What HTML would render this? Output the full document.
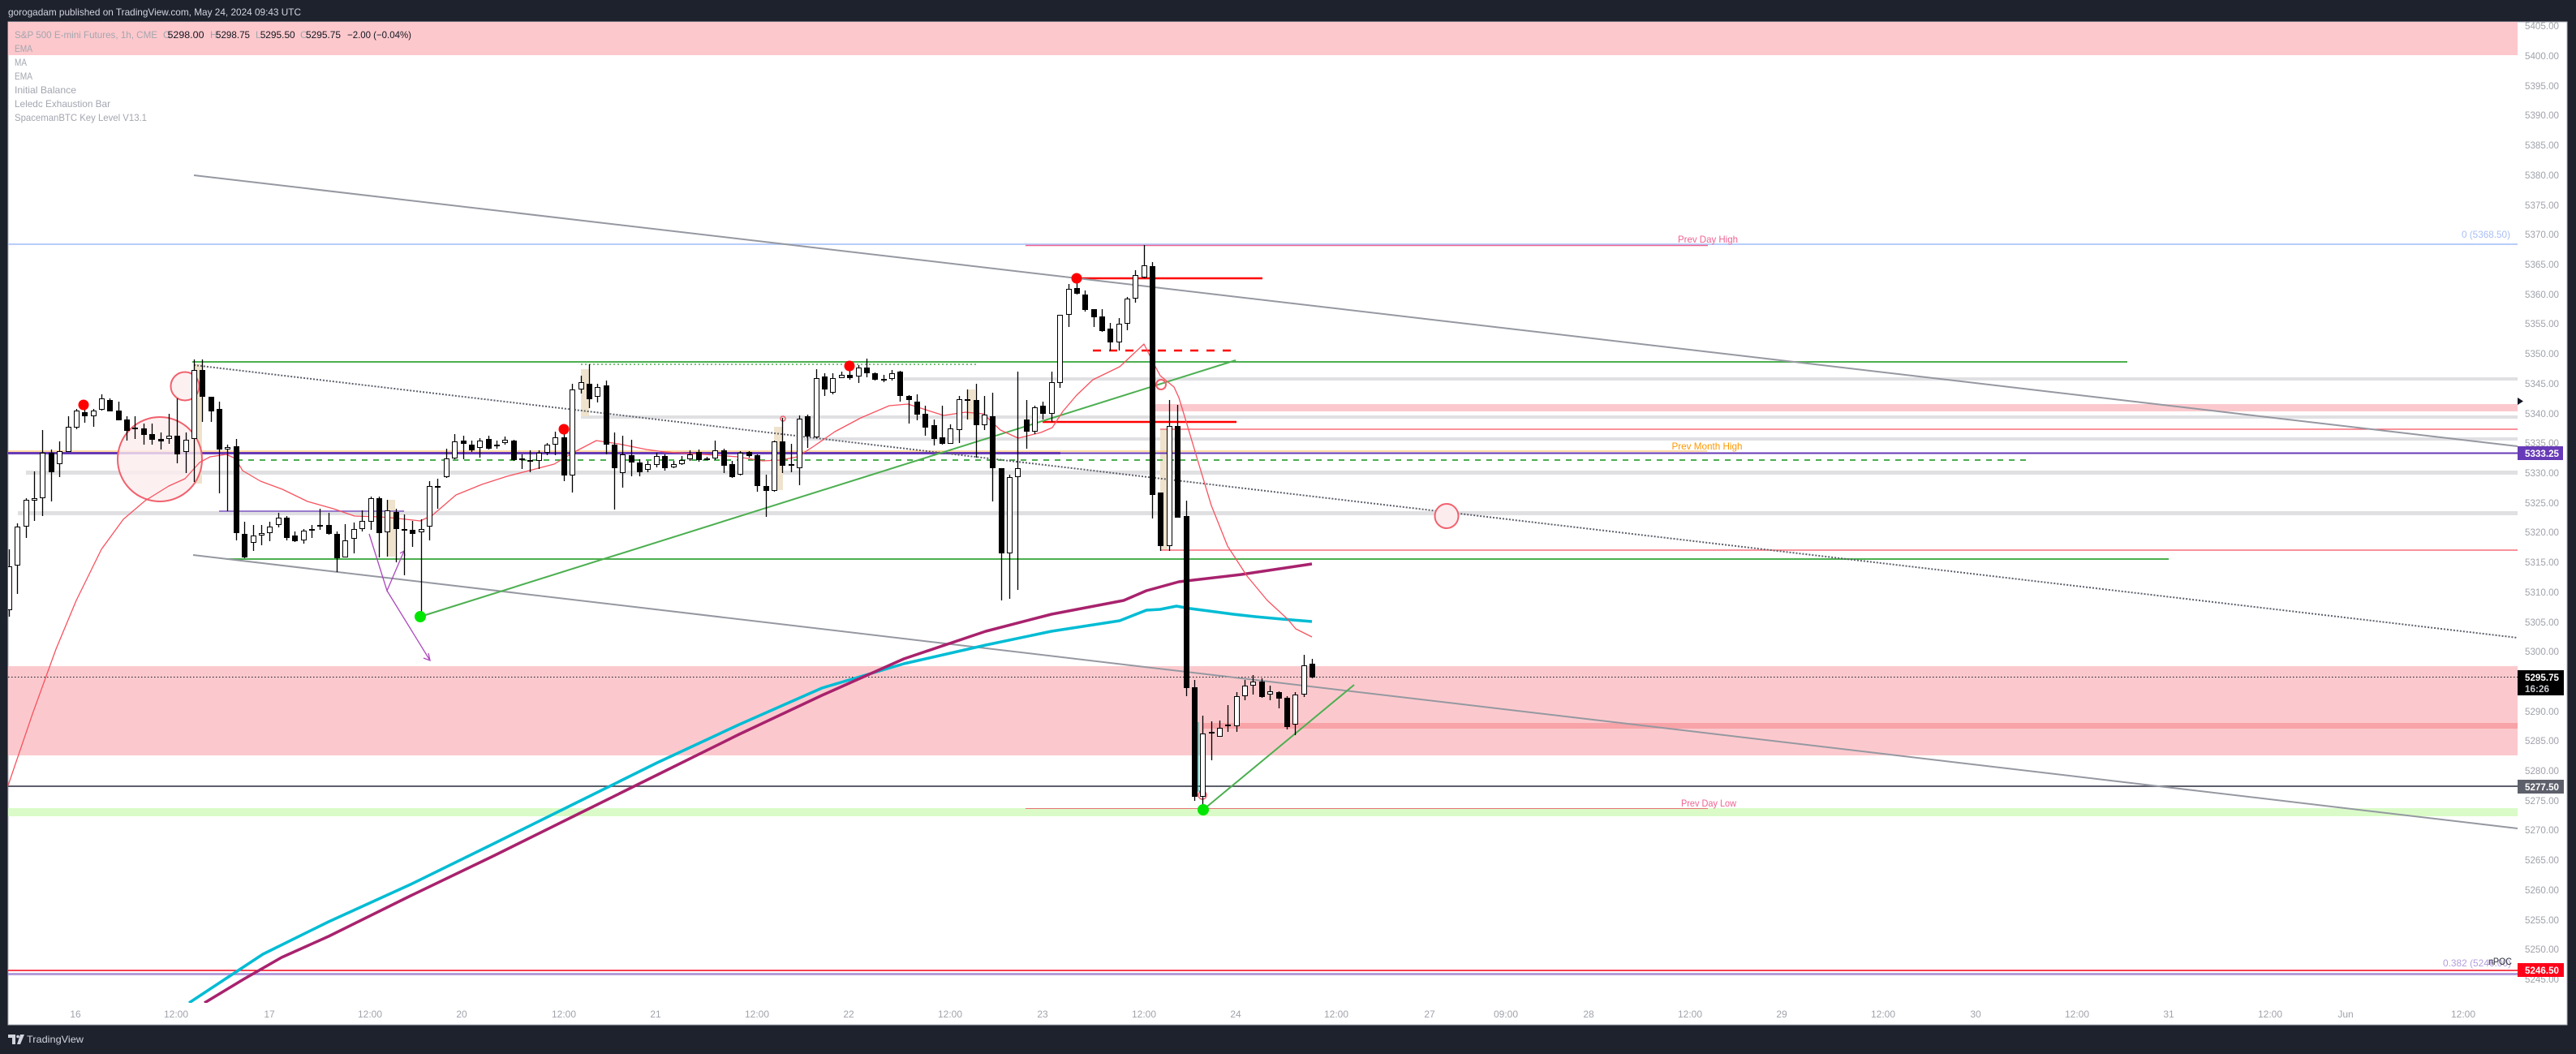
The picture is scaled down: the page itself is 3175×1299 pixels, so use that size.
<!DOCTYPE html>
<html><head><meta charset="utf-8"><style>html,body{margin:0;padding:0;background:#1e222d;overflow:hidden}svg{display:block}</style></head>
<body>
<svg width="3175" height="1299" viewBox="0 0 3175 1299" xmlns="http://www.w3.org/2000/svg" font-family="'Liberation Sans', sans-serif">
<defs>
<clipPath id="pc"><rect x="10" y="27" width="3093" height="1209"/></clipPath>
<clipPath id="ac"><rect x="3103" y="27" width="61" height="1209"/></clipPath>
</defs>
<rect width="3175" height="1299" fill="#1e222d"/>
<rect x="10" y="27" width="3154" height="1236" fill="#ffffff" stroke="#b2b5be" stroke-width="1"/>
<text x="10" y="19" fill="#d1d4dc" font-size="12" textLength="361" lengthAdjust="spacingAndGlyphs">gorogadam published on TradingView.com, May 24, 2024 09:43 UTC</text>

<g clip-path="url(#pc)">
<!-- zones -->
<rect x="10" y="27" width="3093" height="41" fill="#fcc8cc"/>
<rect x="10" y="821" width="3093" height="110" fill="#fbc9cd"/>
<rect x="1483" y="891" width="1620" height="7" fill="#f7a3a8"/>
<rect x="1424" y="498" width="1679" height="9" fill="#fbc9cd"/>
<rect x="10" y="996" width="3093" height="10" fill="#dafbc8"/>
<g fill="#e0e0e3">
<rect x="1114" y="465" width="1989" height="4"/>
<rect x="716" y="512" width="2387" height="4"/>
<rect x="990" y="539" width="2113" height="4"/>
<rect x="32" y="580" width="3071" height="5"/>
<rect x="22" y="630" width="3081" height="5"/>
</g>
<g fill="#efe3cd">
<rect x="239" y="448" width="10" height="148"/>
<rect x="477" y="616" width="10" height="70"/>
<rect x="716" y="455" width="10" height="58"/>
<rect x="954" y="526" width="11" height="78"/>
<rect x="1192" y="480" width="10" height="37"/>
<rect x="1430" y="529" width="9" height="149"/>
</g>

<!-- horizontal lines -->
<line x1="10" y1="301" x2="3103" y2="301" stroke="#b8cdfa" stroke-width="2"/>
<line x1="1264" y1="302.5" x2="2105" y2="302.5" stroke="#f06292" stroke-width="1.5"/>
<line x1="237" y1="446" x2="2622" y2="446" stroke="#4caf50" stroke-width="2"/>
<line x1="716" y1="449" x2="1204" y2="449" stroke="#4caf50" stroke-width="1.5" stroke-dasharray="2 3"/>
<line x1="10" y1="556" x2="2104" y2="556" stroke="#ffb74d" stroke-width="1"/>
<line x1="10" y1="558.5" x2="1307" y2="558.5" stroke="#673ab7" stroke-width="3"/>
<line x1="1307" y1="558.5" x2="3103" y2="558.5" stroke="#673ab7" stroke-width="2"/>
<line x1="292" y1="567" x2="2499" y2="567" stroke="#4caf50" stroke-width="2" stroke-dasharray="7 7"/>
<line x1="270" y1="630" x2="498" y2="630" stroke="#7e57c2" stroke-width="1.5"/>
<line x1="1430" y1="529" x2="3103" y2="529" stroke="#f7525f" stroke-width="1.2"/>
<line x1="1430" y1="678" x2="3103" y2="678" stroke="#f7525f" stroke-width="1.2"/>
<line x1="279" y1="689" x2="2673" y2="689" stroke="#4caf50" stroke-width="2"/>
<line x1="10" y1="969" x2="3103" y2="969" stroke="#5d606b" stroke-width="2"/>
<line x1="10" y1="834.5" x2="3103" y2="834.5" stroke="#131722" stroke-width="1" stroke-dasharray="1.5 2.5"/>
<line x1="1264" y1="996.5" x2="2105" y2="996.5" stroke="#e57373" stroke-width="1"/>
<line x1="10" y1="1196" x2="3103" y2="1196" stroke="#f7021a" stroke-width="1.5"/>
<line x1="10" y1="1200.5" x2="3103" y2="1200.5" stroke="#b39ddb" stroke-width="3"/>
<line x1="1327" y1="343" x2="1556" y2="343" stroke="#ff0000" stroke-width="2.5"/>
<line x1="1285" y1="520" x2="1524" y2="520" stroke="#ff0000" stroke-width="2.5"/>
<line x1="1347" y1="432" x2="1524" y2="432" stroke="#ff0000" stroke-width="2.5" stroke-dasharray="10 10"/>

<!-- trend lines -->
<line x1="239" y1="216" x2="3103" y2="550" stroke="#9598a1" stroke-width="2"/>
<line x1="238" y1="684" x2="3103" y2="1021" stroke="#9598a1" stroke-width="2"/>
<line x1="239" y1="450" x2="3103" y2="786" stroke="#5d606b" stroke-width="2" stroke-dasharray="2 2"/>
<line x1="518" y1="760" x2="1523" y2="444" stroke="#4caf50" stroke-width="2"/>
<line x1="1483" y1="998" x2="1669" y2="844" stroke="#4caf50" stroke-width="2"/>

<!-- circles -->
<circle cx="197" cy="566" r="52" fill="#fdecee" fill-opacity="0.8" stroke="#f0616d" stroke-width="2"/>
<circle cx="228" cy="476" r="17.5" fill="#fdecee" fill-opacity="0.8" stroke="#f0616d" stroke-width="2"/>
<ellipse cx="1783" cy="636" rx="14.5" ry="15" fill="#fdecee" stroke="#f0616d" stroke-width="2"/>
<circle cx="1431" cy="474" r="6" fill="none" stroke="#f0616d" stroke-width="2"/>
<circle cx="1482" cy="980" r="5" fill="none" stroke="#f0616d" stroke-width="1.5"/>
<circle cx="965" cy="516" r="3" fill="none" stroke="#f0616d" stroke-width="1.5"/>

<!-- purple arrows -->
<g stroke="#ab47bc" stroke-width="1.3" fill="none">
<path d="M455 658L477 728L498 679M493 682L498 679L499 685"/>
<path d="M477 728L530 814M522 811L530 814L528 805"/>
</g>

<!-- EMAs -->
<polyline fill="none" stroke="#00bcd4" stroke-width="3.5" stroke-linejoin="round" points="233,1236 280,1205 324,1176 405,1136 506,1090 608,1040 709,990 810,940 911,893 1013,848 1114,818 1215,795 1296,778 1380,765 1413,752 1430,751 1450,747 1467,750 1490,753 1520,757 1547,760 1580,763 1617,766"/>
<polyline fill="none" stroke="#a8226d" stroke-width="3.5" stroke-linejoin="round" points="252,1236 300,1207 347,1180 405,1154 506,1104 608,1055 709,1005 810,955 911,905 1013,857 1114,812 1215,778 1296,757 1385,740 1413,728 1453,717 1530,708 1617,695"/>
<polyline fill="none" stroke="#f7525f" stroke-width="1.3" stroke-linejoin="round" points="10,968 40,880 69,800 94,740 125,677 152,640 179,617 208,599 228,590 246,570 259,563 279,560 290,565 299,580 321,593 348,603 379,618 411,627 437,636 469,637 491,639 518,642 533,635 562,610 594,597 625,587 656,579 683,572 708,557 735,543 762,547 797,554 820,557 851,559 882,561 909,563 940,568 962,567 983,563 1003,550 1029,532 1061,515 1096,500 1119,498 1141,505 1163,512 1190,508 1212,510 1233,530 1255,540 1283,533 1297,527 1310,507 1327,487 1347,468 1380,452 1410,424 1423,450 1430,463 1447,477 1453,490 1463,523 1477,570 1493,623 1513,673 1537,710 1562,740 1587,763 1597,775 1617,785"/>
<path d="M1477 890V975H1482" stroke="#26a69a" stroke-width="1" fill="none"/>

<!-- candles -->
<path fill="none" stroke="#000" stroke-width="1.3" d="M11.5 677V760M21.5 645V732M32.5 614V663M42.5 581V642M52.5 530V636M63.5 554V618M73.5 544V588M84.5 513V557M94.5 504V529M104.5 500V521M115.5 504V526M125.5 486V506M135.5 491V507M146.5 495V518M156.5 513V543M166.5 513V541M177.5 522V548M187.5 522V548M198.5 533V554M208.5 510V547M218.5 491V571M229.5 533V583M239.5 443V594M249.5 443V520M260.5 489V520M270.5 495V608M280.5 548V630M291.5 541V666M301.5 643V688M312.5 647V679M322.5 647V672M332.5 643V667M343.5 632V650M353.5 636V666M363.5 655V668M374.5 652V670M384.5 647V663M394.5 627V653M405.5 632V659M415.5 655V705M425.5 646V687M436.5 644V682M446.5 629V655M457.5 612V653M467.5 612V687M477.5 616V686M488.5 627V693M498.5 634V709M508.5 642V674M519.5 640V760M529.5 593V666M539.5 590V627M550.5 553V589M560.5 535V566M571.5 537V566M581.5 543V557M591.5 540V564M602.5 537V554M612.5 543V553M622.5 538V548M633.5 542V568M643.5 560V578M653.5 555V582M664.5 555V578M674.5 546V561M684.5 532V561M695.5 532V593M705.5 473V607M716.5 463V485M726.5 449V503M736.5 473V496M747.5 469V560M757.5 533V628M767.5 537V601M778.5 542V587M788.5 566V587M798.5 568V582M809.5 558V576M819.5 560V580M830.5 568V577M840.5 562V573M850.5 555V568M861.5 554V569M871.5 563V567M881.5 543V567M892.5 553V583M902.5 568V589M912.5 556V586M923.5 556V564M933.5 560V606M944.5 585V637M954.5 543V606M964.5 515V583M975.5 547V582M985.5 512V598M995.5 511V552M1006.5 455V540M1016.5 460V488M1026.5 460V486M1037.5 458V466M1047.5 455V468M1058.5 450V472M1068.5 442V465M1078.5 459V469M1089.5 462V471M1099.5 456V469M1109.5 457V495M1120.5 487V522M1130.5 486V518M1140.5 500V537M1151.5 517V549M1161.5 500V548M1171.5 523V547M1182.5 488V546M1192.5 480V517M1203.5 473V564M1213.5 488V530M1223.5 484V618M1234.5 577V740M1244.5 585V738M1254.5 458V727M1265.5 493V553M1275.5 500V535M1285.5 495V517M1296.5 458V520M1306.5 388V478M1317.5 350V403M1327.5 343V363M1337.5 358V384M1348.5 381V403M1358.5 381V409M1368.5 398V432M1379.5 392V432M1389.5 366V407M1399.5 333V373M1410.5 302V343M1420.5 323V639M1430.5 607V679M1441.5 493V679M1451.5 499V638M1462.5 617V858M1472.5 838V987M1482.5 882V998M1493.5 889V937M1503.5 888V908M1513.5 869V902M1524.5 853V902M1534.5 838V863M1544.5 832V856M1555.5 836V860M1565.5 845V863M1576.5 852V873M1586.5 858V899M1596.5 853V906M1607.5 807V859M1617.5 812V836"/>
<path fill="#000" d="M60 558h7v24h-7zM101 508h7v5h-7zM132 493h7v14h-7zM143 506h7v12h-7zM153 517h7v14h-7zM163 527h7v2h-7zM174 528h7v8h-7zM184 535h7v7h-7zM195 541h7v3h-7zM215 537h7v23h-7zM246 456h7v33h-7zM257 489h7v18h-7zM267 504h7v50h-7zM288 550h7v107h-7zM298 658h7v29h-7zM350 638h7v25h-7zM360 660h7v7h-7zM402 647h7v11h-7zM412 658h7v30h-7zM464 614h7v43h-7zM485 631h7v21h-7zM495 652h7v2h-7zM505 653h7v5h-7zM568 543h7v4h-7zM578 548h7v7h-7zM599 541h7v12h-7zM630 543h7v24h-7zM640 565h7v2h-7zM650 567h7v2h-7zM692 539h7v47h-7zM723 473h7v19h-7zM744 475h7v73h-7zM754 548h7v29h-7zM775 561h7v9h-7zM785 570h7v12h-7zM816 562h7v15h-7zM858 557h7v10h-7zM868 565h7v2h-7zM889 555h7v19h-7zM899 572h7v16h-7zM920 557h7v5h-7zM930 561h7v38h-7zM941 599h7v6h-7zM961 544h7v30h-7zM972 572h7v2h-7zM992 513h7v25h-7zM1013 464h7v16h-7zM1044 462h7v4h-7zM1065 453h7v7h-7zM1075 460h7v8h-7zM1086 467h7v2h-7zM1106 458h7v30h-7zM1117 488h7v5h-7zM1127 495h7v16h-7zM1137 510h7v17h-7zM1148 524h7v17h-7zM1158 539h7v8h-7zM1200 493h7v31h-7zM1220 513h7v64h-7zM1231 577h7v105h-7zM1262 517h7v15h-7zM1282 500h7v10h-7zM1324 355h7v7h-7zM1334 363h7v19h-7zM1345 381h7v10h-7zM1355 390h7v18h-7zM1365 405h7v17h-7zM1417 328h7v282h-7zM1427 607h7v66h-7zM1448 525h7v113h-7zM1459 636h7v212h-7zM1469 847h7v135h-7zM1552 840h7v19h-7zM1573 853h7v8h-7zM1583 860h7v36h-7zM1614 818h7v17h-7z"/>
<path fill="#fff" stroke="#000" stroke-width="1" d="M8.5 698.5h6v53h-6zM18.5 649.5h6v47h-6zM29.5 616.5h6v32h-6zM39.5 614.5h6v2h-6zM49.5 558.5h6v55h-6zM70.5 556.5h6v15h-6zM81.5 526.5h6v30h-6zM91.5 506.5h6v20h-6zM112.5 506.5h6v6h-6zM122.5 491.5h6v13h-6zM205.5 537.5h6v3h-6zM226.5 542.5h6v14h-6zM236.5 456.5h6v84h-6zM277.5 551.5h6v2h-6zM309.5 660.5h6v8h-6zM319.5 657.5h6v2h-6zM329.5 649.5h6v7h-6zM340.5 638.5h6v8h-6zM371.5 654.5h6v11h-6zM381.5 652.5h6v1h-6zM391.5 647.5h6v1h-6zM422.5 666.5h6v20h-6zM433.5 652.5h6v11h-6zM443.5 642.5h6v9h-6zM454.5 614.5h6v28h-6zM474.5 629.5h6v26h-6zM516.5 652.5h6v3h-6zM526.5 599.5h6v49h-6zM536.5 599.5h6v1h-6zM547.5 565.5h6v22h-6zM557.5 544.5h6v20h-6zM588.5 543.5h6v8h-6zM609.5 548.5h6v1h-6zM619.5 542.5h6v3h-6zM661.5 558.5h6v9h-6zM671.5 548.5h6v9h-6zM681.5 539.5h6v8h-6zM702.5 480.5h6v105h-6zM713.5 471.5h6v8h-6zM733.5 477.5h6v11h-6zM764.5 560.5h6v22h-6zM795.5 572.5h6v6h-6zM806.5 562.5h6v10h-6zM827.5 572.5h6v3h-6zM837.5 567.5h6v4h-6zM847.5 560.5h6v5h-6zM878.5 555.5h6v9h-6zM909.5 558.5h6v26h-6zM951.5 544.5h6v60h-6zM982.5 516.5h6v60h-6zM1003.5 466.5h6v72h-6zM1023.5 466.5h6v17h-6zM1034.5 462.5h6v3h-6zM1055.5 453.5h6v10h-6zM1096.5 460.5h6v6h-6zM1168.5 528.5h6v18h-6zM1179.5 492.5h6v37h-6zM1189.5 492.5h6v1h-6zM1210.5 511.5h6v12h-6zM1241.5 588.5h6v93h-6zM1251.5 577.5h6v10h-6zM1272.5 502.5h6v29h-6zM1293.5 471.5h6v38h-6zM1303.5 388.5h6v83h-6zM1314.5 356.5h6v31h-6zM1376.5 399.5h6v22h-6zM1386.5 368.5h6v30h-6zM1396.5 339.5h6v28h-6zM1407.5 327.5h6v14h-6zM1438.5 525.5h6v147h-6zM1479.5 904.5h6v77h-6zM1490.5 902.5h6v1h-6zM1500.5 897.5h6v10h-6zM1510.5 893.5h6v1h-6zM1521.5 858.5h6v36h-6zM1531.5 845.5h6v12h-6zM1541.5 840.5h6v4h-6zM1562.5 852.5h6v3h-6zM1593.5 856.5h6v36h-6zM1604.5 820.5h6v35h-6z"/>

<!-- dots -->
<g fill="#ff0000">
<circle cx="103" cy="499" r="6.5"/>
<circle cx="695" cy="529" r="6.5"/>
<circle cx="1047" cy="451" r="6.5"/>
<circle cx="1327" cy="343" r="6.5"/>
</g>
<g fill="#00e600">
<circle cx="518" cy="760" r="7"/>
<circle cx="1483" cy="998" r="7"/>
</g>

<!-- in-chart labels -->
<text x="2105" y="299" fill="#f06292" font-size="12" text-anchor="middle" textLength="74" lengthAdjust="spacingAndGlyphs">Prev Day High</text>
<text x="2104" y="554" fill="#ff9800" font-size="12" text-anchor="middle" textLength="87" lengthAdjust="spacingAndGlyphs">Prev Month High</text>
<text x="2106" y="994" fill="#f06292" font-size="12" text-anchor="middle" textLength="68" lengthAdjust="spacingAndGlyphs">Prev Day Low</text>
<text x="3034" y="293" fill="#a9bef5" font-size="12" textLength="60" lengthAdjust="spacingAndGlyphs">0 (5368.50)</text>
<text x="3011" y="1191" fill="#b39ddb" font-size="12" textLength="84" lengthAdjust="spacingAndGlyphs">0.382 (5246.00)</text>
<text x="3067" y="1189" fill="#2a2e39" font-size="12" textLength="29" lengthAdjust="spacingAndGlyphs">nPOC</text>
</g>

<!-- legend -->
<g font-size="12" fill="#a3a6af">
<text x="18" y="47" textLength="176" lengthAdjust="spacingAndGlyphs">S&amp;P 500 E-mini Futures, 1h, CME</text>
<text x="201" y="47">O</text><text x="206.5" y="47" fill="#131722" textLength="45" lengthAdjust="spacingAndGlyphs">5298.00</text>
<text x="259" y="47">H</text><text x="266" y="47" fill="#131722" textLength="42" lengthAdjust="spacingAndGlyphs">5298.75</text>
<text x="315" y="47">L</text><text x="320.7" y="47" fill="#131722" textLength="43" lengthAdjust="spacingAndGlyphs">5295.50</text>
<text x="370" y="47">C</text><text x="377" y="47" fill="#131722" textLength="43" lengthAdjust="spacingAndGlyphs">5295.75</text>
<text x="428" y="47" fill="#131722" textLength="79" lengthAdjust="spacingAndGlyphs">−2.00 (−0.04%)</text>
<text x="18" y="64" textLength="22" lengthAdjust="spacingAndGlyphs">EMA</text>
<text x="18" y="81" textLength="15" lengthAdjust="spacingAndGlyphs">MA</text>
<text x="18" y="98" textLength="22" lengthAdjust="spacingAndGlyphs">EMA</text>
<text x="18" y="115" textLength="76" lengthAdjust="spacingAndGlyphs">Initial Balance</text>
<text x="18" y="132" textLength="118" lengthAdjust="spacingAndGlyphs">Leledc Exhaustion Bar</text>
<text x="18" y="149" textLength="163" lengthAdjust="spacingAndGlyphs">SpacemanBTC Key Level V13.1</text>
</g>

<!-- price axis -->
<g clip-path="url(#ac)" font-size="12" fill="#a0a3ab">
<text x="3112" y="36" textLength="42" lengthAdjust="spacingAndGlyphs">5405.00</text>
<text x="3112" y="73" textLength="42" lengthAdjust="spacingAndGlyphs">5400.00</text>
<text x="3112" y="110" textLength="42" lengthAdjust="spacingAndGlyphs">5395.00</text>
<text x="3112" y="146" textLength="42" lengthAdjust="spacingAndGlyphs">5390.00</text>
<text x="3112" y="183" textLength="42" lengthAdjust="spacingAndGlyphs">5385.00</text>
<text x="3112" y="220" textLength="42" lengthAdjust="spacingAndGlyphs">5380.00</text>
<text x="3112" y="257" textLength="42" lengthAdjust="spacingAndGlyphs">5375.00</text>
<text x="3112" y="293" textLength="42" lengthAdjust="spacingAndGlyphs">5370.00</text>
<text x="3112" y="330" textLength="42" lengthAdjust="spacingAndGlyphs">5365.00</text>
<text x="3112" y="367" textLength="42" lengthAdjust="spacingAndGlyphs">5360.00</text>
<text x="3112" y="403" textLength="42" lengthAdjust="spacingAndGlyphs">5355.00</text>
<text x="3112" y="440" textLength="42" lengthAdjust="spacingAndGlyphs">5350.00</text>
<text x="3112" y="477" textLength="42" lengthAdjust="spacingAndGlyphs">5345.00</text>
<text x="3112" y="514" textLength="42" lengthAdjust="spacingAndGlyphs">5340.00</text>
<text x="3112" y="550" textLength="42" lengthAdjust="spacingAndGlyphs">5335.00</text>
<text x="3112" y="587" textLength="42" lengthAdjust="spacingAndGlyphs">5330.00</text>
<text x="3112" y="624" textLength="42" lengthAdjust="spacingAndGlyphs">5325.00</text>
<text x="3112" y="660" textLength="42" lengthAdjust="spacingAndGlyphs">5320.00</text>
<text x="3112" y="697" textLength="42" lengthAdjust="spacingAndGlyphs">5315.00</text>
<text x="3112" y="734" textLength="42" lengthAdjust="spacingAndGlyphs">5310.00</text>
<text x="3112" y="771" textLength="42" lengthAdjust="spacingAndGlyphs">5305.00</text>
<text x="3112" y="807" textLength="42" lengthAdjust="spacingAndGlyphs">5300.00</text>
<text x="3112" y="844" textLength="42" lengthAdjust="spacingAndGlyphs">5295.00</text>
<text x="3112" y="881" textLength="42" lengthAdjust="spacingAndGlyphs">5290.00</text>
<text x="3112" y="917" textLength="42" lengthAdjust="spacingAndGlyphs">5285.00</text>
<text x="3112" y="954" textLength="42" lengthAdjust="spacingAndGlyphs">5280.00</text>
<text x="3112" y="991" textLength="42" lengthAdjust="spacingAndGlyphs">5275.00</text>
<text x="3112" y="1027" textLength="42" lengthAdjust="spacingAndGlyphs">5270.00</text>
<text x="3112" y="1064" textLength="42" lengthAdjust="spacingAndGlyphs">5265.00</text>
<text x="3112" y="1101" textLength="42" lengthAdjust="spacingAndGlyphs">5260.00</text>
<text x="3112" y="1138" textLength="42" lengthAdjust="spacingAndGlyphs">5255.00</text>
<text x="3112" y="1174" textLength="42" lengthAdjust="spacingAndGlyphs">5250.00</text>
<text x="3112" y="1211" textLength="42" lengthAdjust="spacingAndGlyphs">5245.00</text>
</g>

<!-- price boxes -->
<polygon points="3103,490 3110,494.5 3103,499" fill="#131722"/>
<rect x="3103" y="550" width="56" height="17" fill="#673ab7"/>
<text x="3112" y="563" fill="#fff" font-size="12" font-weight="bold" textLength="42" lengthAdjust="spacingAndGlyphs">5333.25</text>
<rect x="3103" y="826" width="57" height="31" fill="#000"/>
<text x="3112" y="839" fill="#fff" font-size="12" font-weight="bold" textLength="42" lengthAdjust="spacingAndGlyphs">5295.75</text>
<text x="3112" y="853" fill="#c8cad0" font-size="12" font-weight="bold" textLength="30" lengthAdjust="spacingAndGlyphs">16:26</text>
<rect x="3103" y="961" width="57" height="17" fill="#5d606b"/>
<text x="3112" y="974" fill="#fff" font-size="12" font-weight="bold" textLength="42" lengthAdjust="spacingAndGlyphs">5277.50</text>
<rect x="3103" y="1187" width="57" height="17" fill="#ff0019"/>
<text x="3112" y="1200" fill="#fff" font-size="12" font-weight="bold" textLength="42" lengthAdjust="spacingAndGlyphs">5246.50</text>

<!-- time axis -->
<g font-size="12" fill="#a0a3ab" text-anchor="middle">
<text x="93" y="1254">16</text>
<text x="217" y="1254">12:00</text>
<text x="332" y="1254">17</text>
<text x="456" y="1254">12:00</text>
<text x="569" y="1254">20</text>
<text x="695" y="1254">12:00</text>
<text x="808" y="1254">21</text>
<text x="933" y="1254">12:00</text>
<text x="1046" y="1254">22</text>
<text x="1171" y="1254">12:00</text>
<text x="1285" y="1254">23</text>
<text x="1410" y="1254">12:00</text>
<text x="1523" y="1254">24</text>
<text x="1647" y="1254">12:00</text>
<text x="1762" y="1254">27</text>
<text x="1856" y="1254">09:00</text>
<text x="1958" y="1254">28</text>
<text x="2083" y="1254">12:00</text>
<text x="2196" y="1254">29</text>
<text x="2321" y="1254">12:00</text>
<text x="2435" y="1254">30</text>
<text x="2560" y="1254">12:00</text>
<text x="2673" y="1254">31</text>
<text x="2798" y="1254">12:00</text>
<text x="2891" y="1254">Jun</text>
<text x="3036" y="1254">12:00</text>
</g>

<!-- footer -->
<g fill="#d1d4dc">
<path d="M10 1275h9v12h-4v-8h-5z"/>
<circle cx="22" cy="1277.5" r="1.8"/>
<path d="M25 1275h5l-5 12h-4z"/>
<text x="33" y="1285" font-size="12" textLength="70" lengthAdjust="spacingAndGlyphs">TradingView</text>
</g>
</svg>
</body></html>
